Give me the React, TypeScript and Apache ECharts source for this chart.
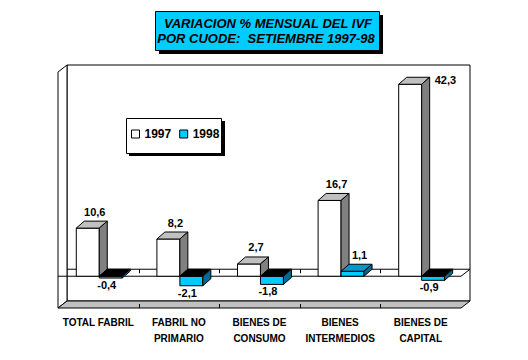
import React, { useEffect, useRef } from "react";
import * as echarts from "echarts";

const categories = ["TOTAL FABRIL", "FABRIL NO\nPRIMARIO", "BIENES DE\nCONSUMO", "BIENES\nINTERMEDIOS", "BIENES DE\nCAPITAL"];
const values1997 = [10.6, 8.2, 2.7, 16.7, 42.3];
const values1998 = [-0.4, -2.1, -1.8, 1.1, -0.9];
const seriesNames = ["1997", "1998"];
const titleLines = ["VARIACION % MENSUAL DEL IVF", "POR CUODE:  SETIEMBRE 1997-98"];

const FONT = '"Liberation Sans", Arial, sans-serif';
const CYAN = "#00CCFF";
const BD = 8; // bar depth x
const BE = -7; // bar depth y

function fmt(v: number) {
  return v.toFixed(1).replace(".", ",");
}

function frameRenderer(params: any, api: any) {
  const cs = params.coordSys;
  const x0 = cs.x, x1 = cs.x + cs.width, yt = cs.y, yb = cs.y + cs.height;
  const D = 9, E = 7;
  const y0 = api.coord([0, 0])[1];
  const band = api.size([1, 0])[0];
  const ln = { stroke: "#000", lineWidth: 1 };
  const children: any[] = [
    { type: "rect", shape: { x: x0 + D, y: yt - E, width: cs.width, height: cs.height }, style: { fill: "#fff", ...ln } },
    { type: "polygon", shape: { points: [[x0, yt], [x0 + D, yt - E], [x0 + D, yb - E], [x0, yb]] }, style: { fill: "#fff", ...ln } },
    { type: "polygon", shape: { points: [[x0, yb], [x1, yb], [x1 + D, yb - E], [x0 + D, yb - E]] }, style: { fill: "#C0C0C0", ...ln } },
    { type: "line", shape: { x1: x0 + D, y1: y0 - E, x2: x1 + D, y2: y0 - E }, style: ln },
    { type: "line", shape: { x1: x0, y1: y0, x2: x1, y2: y0 }, style: ln },
    { type: "line", shape: { x1: x1, y1: y0, x2: x1 + D, y2: y0 - E }, style: ln },
  ];
  for (let k = 1; k < categories.length; k++) {
    const bx = Math.round(x0 + band * k) + 0.5;
    children.push({ type: "line", shape: { x1: bx, y1: y0 - E, x2: bx, y2: y0 - E + 4 }, style: ln });
    children.push({ type: "line", shape: { x1: bx, y1: yb - 4, x2: bx, y2: yb }, style: ln });
  }
  return { type: "group", children };
}

function makeBarRenderer(kind: number) {
  return (params: any, api: any) => {
    const cs = params.coordSys;
    const i = api.value(0);
    const v = api.value(1);
    const p = api.coord([i, v]);
    const cx = p[0], yv = p[1];
    const y0 = api.coord([i, 0])[1];
    const band = api.size([1, 0])[0];
    const w = band * 0.285;
    const L = kind === 0 ? cx - band * 0.273 : cx + band * 0.012;
    const top = Math.min(yv, y0), bot = Math.max(yv, y0);
    let front = "#fff", topC = "#C0C0C0", side = "#808080";
    if (kind === 1) {
      front = CYAN;
      topC = v >= 0 ? "#0099CC" : "#000";
      side = "#006B8F";
    }
    const ln = { stroke: "#000", lineWidth: 1 };
    const children: any[] = [
      { type: "rect", shape: { x: L, y: top, width: w, height: bot - top }, style: { fill: front, ...ln } },
      { type: "polygon", shape: { points: [[L, top], [L + w, top], [L + w + BD, top + BE], [L + BD, top + BE]] }, style: { fill: topC, ...ln } },
      { type: "polygon", shape: { points: [[L + w, top], [L + w + BD, top + BE], [L + w + BD, bot + BE], [L + w, bot]] }, style: { fill: side, ...ln } },
    ];
    let tx: number, ty: number, align = "center";
    if (v >= 0) {
      tx = L + w / 2 + 7;
      ty = top + BE - 9.5;
      if (ty - 6 < cs.y - 7) {
        tx = L + w + BD + 5;
        ty = top - 4;
        align = "left";
      }
    } else {
      tx = L + w / 2 - 4;
      ty = bot + 7;
    }
    children.push({
      type: "text",
      style: {
        text: fmt(v), x: tx, y: ty, fill: "#000",
        font: `bold 11px ${FONT}`,
        align, textAlign: align, verticalAlign: "middle", textVerticalAlign: "middle",
      },
    });
    return { type: "group", children };
  };
}

export default function App() {
  const ref = useRef<HTMLDivElement>(null);
  useEffect(() => {
    if (!ref.current) return;
    const chart = echarts.init(ref.current, null, { renderer: "svg" });
    chart.setOption({
      animation: false,
      backgroundColor: "#fff",
      grid: { left: 58, top: 72, width: 403, height: 236 },
      xAxis: {
        type: "category",
        data: categories,
        axisLine: { show: false, onZero: false },
        axisTick: { show: false },
        splitLine: { show: false },
        axisLabel: {
          interval: 0, margin: 6, color: "#000",
          fontFamily: FONT, fontWeight: "bold", fontSize: 10, lineHeight: 16,
        },
      },
      yAxis: { type: "value", min: -7, max: 45, show: false },
      legend: {
        z: 20,
        left: 131, top: 127, padding: 0, itemGap: 8, itemWidth: 8, itemHeight: 8,
        textStyle: { fontFamily: FONT, fontWeight: "bold", fontSize: 12, color: "#000", lineHeight: 14 },
        data: [
          { name: seriesNames[0], icon: "rect", itemStyle: { color: "#fff", borderColor: "#000", borderWidth: 1 } },
          { name: seriesNames[1], icon: "rect", itemStyle: { color: CYAN, borderColor: "#000", borderWidth: 1 } },
        ],
        selectedMode: false,
      },
      graphic: [
        { type: "rect", z: 10, shape: { x: 159, y: 15, width: 224, height: 39 }, style: { fill: "#000" } },
        { type: "rect", z: 11, shape: { x: 155.5, y: 11.5, width: 224, height: 39 }, style: { fill: CYAN, stroke: "#000", lineWidth: 1 } },
        { type: "text", z: 12, style: { text: titleLines[0], x: 268, y: 23, fill: "#000", font: `italic bold 13px ${FONT}`, align: "center", textAlign: "center", verticalAlign: "middle", textVerticalAlign: "middle" } },
        { type: "text", z: 12, style: { text: titleLines[1], x: 266, y: 38.5, fill: "#000", font: `italic bold 13px ${FONT}`, align: "center", textAlign: "center", verticalAlign: "middle", textVerticalAlign: "middle" } },
        { type: "rect", z: 3, shape: { x: 129, y: 121, width: 96, height: 35 }, style: { fill: "#000" } },
        { type: "rect", z: 3, shape: { x: 126.5, y: 118.5, width: 95, height: 35 }, style: { fill: "#fff", stroke: "#000", lineWidth: 1 } },
      ],
      series: [
        { type: "custom", name: "frame", z: 1, silent: true, renderItem: frameRenderer, data: [[0, 0]] },
        {
          type: "custom", name: seriesNames[0], z: 2, renderItem: makeBarRenderer(0),
          itemStyle: { color: "#fff", borderColor: "#000" },
          data: values1997.map((v, i) => [i, v]),
        },
        {
          type: "custom", name: seriesNames[1], z: 3, renderItem: makeBarRenderer(1),
          itemStyle: { color: CYAN, borderColor: "#000" },
          data: values1998.map((v, i) => [i, v]),
        },
      ],
    });
    return () => chart.dispose();
  }, []);
  return <div ref={ref} style={{ position: "fixed", left: 0, top: 0, width: 528, height: 360 }} />;
}
